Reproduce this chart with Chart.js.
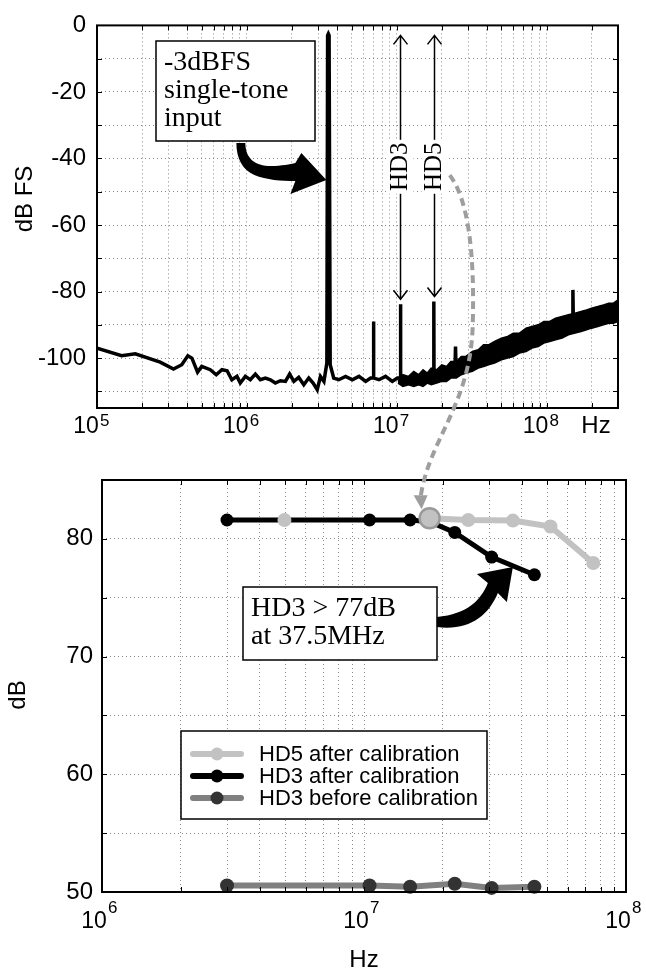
<!DOCTYPE html>
<html>
<head>
<meta charset="utf-8">
<script src="https://cdn.jsdelivr.net/npm/chart.js@4.4.1/dist/chart.umd.min.js"></script>
<style>
    body { margin: 0; background: #fff; }
    #wrap { position: relative; width: 646px; height: 970px; }
    canvas { display: block; }
    #overlay { position: absolute; left: 0; top: 0; pointer-events: none; }
</style>
</head>
<body>
<div id="wrap">
    <canvas id="specChart" width="646" height="440"></canvas>
    <canvas id="hdChart" width="646" height="530"></canvas>
    <canvas id="overlay" width="646" height="970"></canvas>
</div>
<script>
// Spectrum trace (Hz, dBFS)
const specFreq = [
    1.0e5, 1.46e5, 1.8e5, 2.64e5, 3.24e5, 3.68e5, 4.04e5, 4.3e5, 4.69e5, 5.0e5,
    5.7e5, 6.25e5, 6.82e5, 7.38e5, 7.94e5, 8.59e5, 9.04e5, 9.77e5, 1.055e6, 1.14e6,
    1.23e6, 1.33e6, 1.435e6, 1.55e6, 1.675e6, 1.81e6, 1.93e6, 2.06e6, 2.22e6, 2.4e6,
    2.59e6, 2.77e6, 2.95e6, 3.1e6, 3.27e6, 3.42e6, 3.46e6, 3.5e6, 3.54e6, 3.6e6,
    3.8e6, 4.11e6, 4.56e6, 5.06e6, 5.6e6, 6.21e6, 6.7e6, 6.96e6, 7.0e6, 7.04e6,
    7.62e6, 8.43e6, 9.35e6, 1.01e7, 1.055e7, 1.06e7, 1.065e7, 1.15e7, 1.27e7, 1.41e7,
    1.56e7, 1.73e7, 1.765e7, 1.77e7, 1.775e7, 1.92e7, 2.13e7, 2.45e7, 2.47e7, 2.49e7,
    3.0e7, 4.0e7, 5.0e7, 7.0e7, 1.0e8, 1.4e8, 1.49e8, 1.5e8, 1.51e8, 2.0e8, 3.0e8
];
const specDb = [
    -97, -99.3, -98.7, -101.2, -103.3, -102, -99.3, -100, -104.2, -102.5,
    -103.5, -105, -103.5, -103.8, -106.5, -105.5, -107.5, -105.5, -106.5, -104.8,
    -106.5, -106, -106.5, -107.5, -106.8, -107, -104.8, -107, -105.8, -108,
    -106, -107.5, -109.5, -105.5, -107, -101.5, -3, -2.5, -3, -102,
    -106, -106.5, -105.5, -106.5, -105.5, -107, -106, -106, -89, -106,
    -106.5, -105.5, -107, -106, -106, -83.8, -106, -106.5, -106, -106,
    -105.5, -105, -105, -83, -105, -104.5, -104.5, -103, -96.5, -103,
    -101, -99, -97, -94, -91.5, -89, -88.5, -79.5, -88.5, -87, -85.5
];

// Upper / lower edge of the thick noise band above 10 MHz
const bandFreq = [
    1.02e7, 1.1e7, 1.2e7, 1.3e7, 1.4e7, 1.5e7, 1.6e7, 1.7e7, 1.85e7, 2.0e7,
    2.15e7, 2.3e7, 2.5e7, 2.7e7, 2.9e7, 3.2e7, 3.5e7, 3.8e7, 4.1e7, 4.5e7,
    5.0e7, 5.5e7, 6.0e7, 6.6e7, 7.3e7, 8.0e7, 8.8e7, 9.6e7, 1.05e8, 1.15e8,
    1.27e8, 1.4e8, 1.55e8, 1.7e8, 1.85e8, 2.0e8, 2.2e8, 2.4e8, 2.6e8, 2.8e8,
    3.0e8
];
const bandTop = [
    -107, -105, -105.5, -104, -105, -103.5, -104.5, -103, -103.5, -102,
    -102.5, -101, -101, -99.5, -99.5, -98, -97.5, -96, -96, -95,
    -94, -93.5, -92.5, -92.5, -91, -90.5, -90, -89, -89, -88,
    -87.5, -87, -86.5, -86, -85.5, -85, -84.5, -84, -83.5, -83.5,
    -82.5
];
const bandBottom = [
    -107.5, -108.5, -108, -108.5, -108, -108.5, -107.5, -108, -107.5, -107,
    -107, -106, -106, -105, -104.5, -104, -103, -102.5, -102, -101.5,
    -100.5, -100, -99.5, -98.5, -98, -97, -96.5, -95.5, -95, -94.5,
    -94, -93, -92.5, -92, -91.5, -91, -90.5, -90, -89.5, -89.5,
    -89
];

// Harmonic markers in the spectrum
const hdLabels = ['HD3', 'HD5'];
const hdFreq = [1.06e7, 1.77e7];
const hdPeak = [-83.8, -83];
const toneFreq = 3.5e6;

// Lower plot: distortion vs input frequency
const legendLabels = ['HD5 after calibration', 'HD3 after calibration', 'HD3 before calibration'];
const hd5AfterFreq = [4.97e6, 1.78e7, 2.5e7, 3.7e7, 5.15e7, 7.5e7];
const hd5AfterDb = [81.6, 81.75, 81.6, 81.55, 81.05, 77.95];
const hd3AfterFreq = [3.0e6, 1.05e7, 1.5e7, 1.78e7, 2.22e7, 3.07e7, 4.47e7];
const hd3AfterDb = [81.6, 81.6, 81.6, 81.45, 80.55, 78.45, 76.95];
const hd3BeforeFreq = [3.0e6, 1.05e7, 1.5e7, 2.22e7, 3.07e7, 4.47e7];
const hd3BeforeDb = [50.55, 50.55, 50.45, 50.7, 50.35, 50.45];

const SANS = '"Liberation Sans", Arial, sans-serif';
const SERIF = '"Liberation Serif", "Times New Roman", serif';

Chart.defaults.font.family = SANS;
Chart.defaults.color = '#000';

function toPoints(xs, ys) {
    return xs.map((v, i) => ({ x: v, y: ys[i] }));
}

// 1..9 x 10^n grid values between lo and hi
function logGrid(lo, hi) {
    const vals = [];
    for (let e = Math.floor(Math.log10(lo)); e <= Math.ceil(Math.log10(hi)); e++) {
        for (let k = 1; k < 10; k++) {
            const v = k * Math.pow(10, e);
            if (v >= lo * 0.999 && v <= hi * 1.001) vals.push(v);
        }
    }
    return vals;
}

function linGrid(lo, hi, step) {
    const vals = [];
    for (let v = hi; v >= lo; v -= step) vals.push(v);
    return vals;
}

// box + inward tick marks, matlab style
function drawFrame(chart, xVals, yVals) {
    const { ctx, chartArea: a, scales: { x, y } } = chart;
    ctx.save();
    ctx.strokeStyle = '#000';
    ctx.lineWidth = 1;
    ctx.beginPath();
    xVals.forEach(v => {
        const px = Math.round(x.getPixelForValue(v)) + 0.5;
        ctx.moveTo(px, a.bottom); ctx.lineTo(px, a.bottom - 5);
        ctx.moveTo(px, a.top); ctx.lineTo(px, a.top + 5);
    });
    yVals.forEach(v => {
        const py = Math.round(y.getPixelForValue(v)) + 0.5;
        ctx.moveTo(a.left, py); ctx.lineTo(a.left + 5, py);
        ctx.moveTo(a.right, py); ctx.lineTo(a.right - 5, py);
    });
    ctx.stroke();
    ctx.lineWidth = 2;
    ctx.strokeRect(a.left, a.top, a.right - a.left, a.bottom - a.top);
    ctx.restore();
}

// "10" with a raised exponent under each decade
function drawDecades(ctx, scale, exps, baseY, expY, shift) {
    ctx.save();
    ctx.fillStyle = '#000';
    ctx.textBaseline = 'alphabetic';
    exps.forEach(e => {
        const px = scale.getPixelForValue(Math.pow(10, e));
        ctx.font = '23px ' + SANS;
        ctx.textAlign = 'center';
        ctx.fillText('10', px + shift, baseY);
        ctx.font = '17px ' + SANS;
        ctx.textAlign = 'left';
        ctx.fillText(String(e), px + shift + 14, expY);
    });
    ctx.restore();
}

function rotatedText(ctx, str, x, y, font) {
    ctx.save();
    ctx.translate(x, y);
    ctx.rotate(-Math.PI / 2);
    ctx.font = font;
    ctx.textAlign = 'center';
    ctx.textBaseline = 'middle';
    ctx.fillStyle = '#000';
    ctx.fillText(str, 0, 0);
    ctx.restore();
}

function textBox(ctx, lines, left, top, w, h, firstBase, lineStep) {
    ctx.save();
    ctx.fillStyle = '#fff';
    ctx.fillRect(left, top, w, h);
    ctx.strokeStyle = '#000';
    ctx.lineWidth = 1.5;
    ctx.strokeRect(left, top, w, h);
    ctx.fillStyle = '#000';
    ctx.font = '28px ' + SERIF;
    ctx.textAlign = 'left';
    ctx.textBaseline = 'alphabetic';
    lines.forEach((s, i) => ctx.fillText(s, left + 8, top + firstBase + i * lineStep));
    ctx.restore();
}

const specXGrid = logGrid(1e5, 3e8);
const specYGrid = linGrid(-110, 0, 10);

const specAnnotations = {
    id: 'specAnnotations',
    afterDraw(chart) {
        const { ctx, scales: { x, y } } = chart;
        drawFrame(chart, specXGrid, specYGrid);
        drawDecades(ctx, x, [5, 6, 7, 8], 433, 426, -11);

        ctx.save();
        ctx.fillStyle = '#000';
        ctx.font = '24px ' + SANS;
        ctx.textAlign = 'center';
        ctx.fillText('Hz', 596, 433);
        ctx.restore();
        rotatedText(ctx, 'dB FS', 25, 199, '24px ' + SANS);

        // HD3 / HD5 double arrows with labels
        hdLabels.forEach((lab, i) => {
            const px = Math.round(x.getPixelForValue(hdFreq[i])) + 0.5;
            const yTop = y.getPixelForValue(-3);
            const yBot = y.getPixelForValue(hdPeak[i] + 1.5);
            const yMid = y.getPixelForValue(-42.5);
            ctx.save();
            ctx.strokeStyle = '#000';
            ctx.lineWidth = 1.5;
            ctx.beginPath();
            ctx.moveTo(px, yTop); ctx.lineTo(px, yBot);
            ctx.moveTo(px - 7, yTop + 9); ctx.lineTo(px, yTop); ctx.lineTo(px + 7, yTop + 9);
            ctx.moveTo(px - 7, yBot - 9); ctx.lineTo(px, yBot); ctx.lineTo(px + 7, yBot - 9);
            ctx.stroke();
            ctx.fillStyle = '#fff';
            ctx.fillRect(px - 13, yMid - 27, 26, 54);
            ctx.restore();
            rotatedText(ctx, lab, px, yMid, '25px ' + SERIF);
        });

        // input tone callout
        textBox(ctx, ['-3dBFS', 'single-tone', 'input'], 156, 41, 159, 100, 29, 28);

        const tx = x.getPixelForValue(toneFreq) - 2;
        const ty = y.getPixelForValue(-46.5);
        ctx.save();
        ctx.fillStyle = '#000';
        ctx.beginPath();
        ctx.moveTo(tx - 90, ty - 37);
        ctx.lineTo(tx - 81, ty - 37);
        ctx.bezierCurveTo(tx - 81, ty - 22, tx - 72, ty - 14, tx - 55, ty - 14);
        ctx.bezierCurveTo(tx - 45, ty - 14, tx - 36, ty - 16, tx - 31, ty - 17);
        ctx.lineTo(tx - 25, ty - 27);
        ctx.lineTo(tx, ty);
        ctx.lineTo(tx - 36, ty + 14);
        ctx.lineTo(tx - 31, ty + 1);
        ctx.bezierCurveTo(tx - 45, ty + 1, tx - 60, ty, tx - 72, ty - 5);
        ctx.bezierCurveTo(tx - 84, ty - 10, tx - 90, ty - 22, tx - 90, ty - 37);
        ctx.closePath();
        ctx.fill();
        ctx.restore();
    }
};

const gridStyle = { color: '#8a8a8a', lineWidth: 1, drawTicks: false };
const gridBorder = { display: false, dash: [1, 3] };

const specChart = new Chart(document.getElementById('specChart'), {
    type: 'line',
    data: {
        datasets: [
            {
                data: toPoints(specFreq, specDb),
                borderColor: '#000',
                borderWidth: 3.5,
                pointRadius: 0,
                fill: false
            },
            {
                data: toPoints(bandFreq, bandTop),
                borderColor: '#000',
                borderWidth: 1.5,
                pointRadius: 0,
                backgroundColor: '#000',
                fill: '+1'
            },
            {
                data: toPoints(bandFreq, bandBottom),
                borderColor: '#000',
                borderWidth: 1.5,
                pointRadius: 0,
                fill: false
            }
        ]
    },
    options: {
        responsive: false,
        animation: false,
        layout: { padding: { top: 23, right: 28, left: 0, bottom: 0 } },
        plugins: { legend: { display: false }, tooltip: { enabled: false } },
        scales: {
            x: {
                type: 'logarithmic',
                min: 1e5,
                max: 3e8,
                afterBuildTicks: s => { s.ticks = specXGrid.map(v => ({ value: v })); },
                afterFit: s => { s.height = 32; },
                ticks: { display: false },
                grid: gridStyle,
                border: gridBorder
            },
            y: {
                min: -115,
                max: 0,
                afterBuildTicks: s => { s.ticks = specYGrid.map(v => ({ value: v })); },
                afterFit: s => { s.width = 97; },
                ticks: {
                    callback: v => (v % 20 === 0 ? v : ''),
                    font: { size: 24 },
                    padding: 11,
                    color: '#000'
                },
                grid: gridStyle,
                border: gridBorder
            }
        }
    },
    plugins: [specAnnotations]
});

const hdXGrid = logGrid(1e6, 1e8);
const hdYGrid = linGrid(50, 85, 5);

const hdAnnotations = {
    id: 'hdAnnotations',
    afterDraw(chart) {
        const { ctx, chartArea: a, scales: { x, y } } = chart;
        drawFrame(chart, hdXGrid, hdYGrid);
        drawDecades(ctx, x, [6, 7, 8], 488, 473, -8);

        ctx.save();
        ctx.fillStyle = '#000';
        ctx.font = '24px ' + SANS;
        ctx.textAlign = 'center';
        ctx.fillText('Hz', (a.left + a.right) / 2, 527);
        ctx.restore();
        rotatedText(ctx, 'dB', 18, 255, '24px ' + SANS);

        // HD3 callout
        textBox(ctx, ['HD3 > 77dB', 'at 37.5MHz'], 243, 147, 194, 73, 29, 28);
        const bx = x.getPixelForValue(3.7e7);
        const by = y.getPixelForValue(77.6);
        ctx.save();
        ctx.fillStyle = '#000';
        ctx.beginPath();
        ctx.moveTo(bx, by);
        ctx.lineTo(bx - 36, by + 7);
        ctx.lineTo(bx - 25, by + 16);
        ctx.bezierCurveTo(bx - 32, by + 33, bx - 45, by + 47, bx - 76, by + 50);
        ctx.lineTo(bx - 76, by + 60);
        ctx.bezierCurveTo(bx - 45, by + 64, bx - 25, by + 50, bx - 15, by + 26);
        ctx.lineTo(bx - 6, by + 35);
        ctx.closePath();
        ctx.fill();
        ctx.restore();

        // legend box
        const lx = 181, ly = 291;
        ctx.save();
        ctx.fillStyle = '#fff';
        ctx.fillRect(lx, ly, 306, 88);
        ctx.strokeStyle = '#000';
        ctx.lineWidth = 1.5;
        ctx.strokeRect(lx, ly, 306, 88);
        chart.data.datasets.forEach((ds, i) => {
            const cy = ly + 23 + i * 22;
            ctx.strokeStyle = ds.borderColor;
            ctx.lineWidth = 6;
            ctx.lineCap = 'round';
            ctx.beginPath();
            ctx.moveTo(lx + 12, cy); ctx.lineTo(lx + 60, cy);
            ctx.stroke();
            ctx.fillStyle = ds.legendDot;
            ctx.beginPath();
            ctx.arc(lx + 36, cy, 6.5, 0, Math.PI * 2);
            ctx.fill();
            ctx.fillStyle = '#000';
            ctx.font = '22px ' + SANS;
            ctx.textAlign = 'left';
            ctx.textBaseline = 'middle';
            ctx.fillText(legendLabels[i], lx + 78, cy + 1);
        });
        ctx.restore();

        drawLinkArrow(chart);
    }
};

// grey dashed arrow from the HD5 label down to the first HD5 point
function drawLinkArrow(hdChart) {
    const octx = document.getElementById('overlay').getContext('2d');
    octx.clearRect(0, 0, 646, 970);
    const sx = specChart.scales.x.getPixelForValue(2.26e7);
    const sy = specChart.scales.y.getPixelForValue(-45);
    const ex = hdChart.scales.x.getPixelForValue(hd5AfterFreq[1]) - 9;
    const ey = hdChart.scales.y.getPixelForValue(hd5AfterDb[1]) + 440 - 9;
    const mx = sx + 23, my = sy + 150;
    octx.save();
    octx.strokeStyle = '#9e9e9e';
    octx.lineWidth = 4;
    octx.setLineDash([8, 5]);
    octx.beginPath();
    octx.moveTo(sx, sy);
    octx.bezierCurveTo(sx + 19, sy + 25, sx + 25, sy + 80, mx, my);
    octx.bezierCurveTo(mx - 2, my + 80, ex + 8, ey - 70, ex, ey - 12);
    octx.stroke();
    octx.setLineDash([]);
    octx.fillStyle = '#9e9e9e';
    octx.beginPath();
    octx.moveTo(ex + 1, ey);
    octx.lineTo(ex - 7, ey - 14);
    octx.lineTo(ex + 7, ey - 14);
    octx.closePath();
    octx.fill();
    octx.restore();
}

new Chart(document.getElementById('hdChart'), {
    type: 'line',
    data: {
        datasets: [
            {
                data: toPoints(hd5AfterFreq, hd5AfterDb),
                borderColor: '#c2c2c2',
                borderWidth: 6,
                pointRadius: [7, 10, 7, 7, 7, 7],
                pointBackgroundColor: '#c2c2c2',
                pointBorderColor: ['#c2c2c2', '#9a9a9a', '#c2c2c2', '#c2c2c2', '#c2c2c2', '#c2c2c2'],
                pointBorderWidth: [0, 2.5, 0, 0, 0, 0],
                legendDot: '#c2c2c2',
                segment: { borderColor: c => (c.p0DataIndex === 0 ? 'rgba(0,0,0,0)' : undefined) },
                clip: false
            },
            {
                data: toPoints(hd3AfterFreq, hd3AfterDb),
                borderColor: '#000',
                borderWidth: 5,
                pointRadius: 6.5,
                pointBackgroundColor: '#000',
                pointBorderWidth: 0,
                legendDot: '#000',
                clip: false
            },
            {
                data: toPoints(hd3BeforeFreq, hd3BeforeDb),
                borderColor: '#808080',
                borderWidth: 6,
                pointRadius: 7,
                pointBackgroundColor: '#333',
                pointBorderWidth: 0,
                legendDot: '#333',
                clip: false
            }
        ]
    },
    options: {
        responsive: false,
        animation: false,
        layout: { padding: { top: 40, right: 20, left: 0, bottom: 0 } },
        plugins: { legend: { display: false }, tooltip: { enabled: false } },
        scales: {
            x: {
                type: 'logarithmic',
                min: 1e6,
                max: 1e8,
                afterBuildTicks: s => { s.ticks = hdXGrid.map(v => ({ value: v })); },
                afterFit: s => { s.height = 78; },
                ticks: { display: false },
                grid: gridStyle,
                border: gridBorder
            },
            y: {
                min: 50,
                max: 85,
                afterBuildTicks: s => { s.ticks = hdYGrid.map(v => ({ value: v })); },
                afterFit: s => { s.width = 102; },
                ticks: {
                    callback: v => (v % 10 === 0 ? v : ''),
                    font: { size: 24 },
                    padding: 9,
                    color: '#000'
                },
                grid: gridStyle,
                border: gridBorder
            }
        }
    },
    plugins: [hdAnnotations]
});
</script>
</body>
</html>
